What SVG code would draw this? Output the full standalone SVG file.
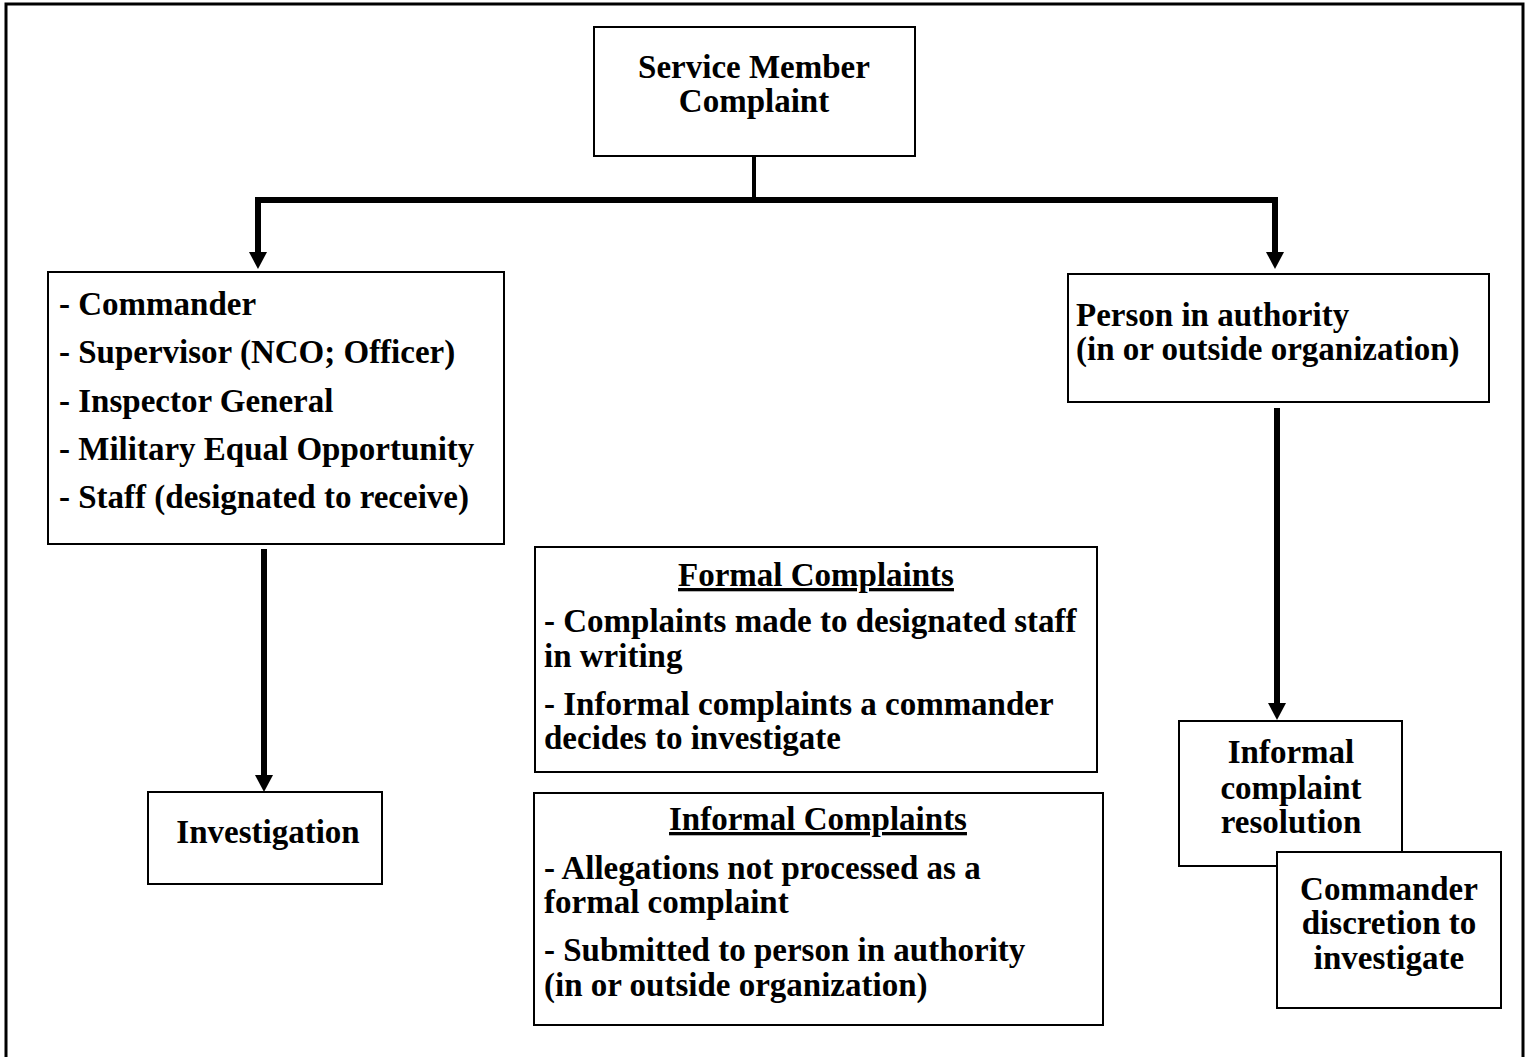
<svg xmlns="http://www.w3.org/2000/svg" width="1531" height="1057" viewBox="0 0 1531 1057">
<defs>
<style>
.box{fill:#fff;stroke:#000;stroke-width:2}
.t{font-family:"Liberation Serif","Times New Roman",serif;font-weight:bold;font-size:33px;fill:#000}
.c{text-anchor:middle}
.conn{stroke:#000;stroke-width:6;fill:none}
</style>
<marker id="ah" markerWidth="6" markerHeight="6" refX="6" refY="3" orient="auto" markerUnits="userSpaceOnUse" viewBox="0 0 6 6">
<path d="M0,0 L6,3 L0,6 Z" fill="#000"/>
</marker>
</defs>
<rect width="1531" height="1057" fill="#fff"/>
<path d="M6,1057 V4 H1523 V1057" fill="none" stroke="#000" stroke-width="3"/>
<g id="connectors">
<line x1="754" y1="156" x2="754" y2="200" stroke="#000" stroke-width="4"/>
<path class="conn" d="M258,253 V200 H1275 V253"/>
<polygon points="249,252 267,252 258,269" fill="#000"/>
<polygon points="1266,252 1284,252 1275,269" fill="#000"/>
<line class="conn" x1="264" y1="549" x2="264" y2="777"/>
<polygon points="255,775 273,775 264,792" fill="#000"/>
<line class="conn" x1="1277" y1="408" x2="1277" y2="705"/>
<polygon points="1268,703 1286,703 1277,720" fill="#000"/>
</g>
<g id="service-member-complaint">
<rect class="box" x="594" y="27" width="321" height="129"/>
<text class="t c" x="754" y="78">Service Member</text>
<text class="t c" x="754" y="112">Complaint</text>
</g>
<g id="receivers">
<rect class="box" x="48" y="272" width="456" height="272"/>
<text class="t" x="59" y="315">- Commander</text>
<text class="t" x="59" y="363">- Supervisor (NCO; Officer)</text>
<text class="t" x="59" y="412">- Inspector General</text>
<text class="t" x="59" y="460">- Military Equal Opportunity</text>
<text class="t" x="59" y="508">- Staff (designated to receive)</text>
</g>
<g id="person-in-authority">
<rect class="box" x="1068" y="274" width="421" height="128"/>
<text class="t" x="1076" y="326">Person in authority</text>
<text class="t" x="1076" y="360">(in or outside organization)</text>
</g>
<g id="investigation">
<rect class="box" x="148" y="792" width="234" height="92"/>
<text class="t c" x="268" y="843">Investigation</text>
</g>
<g id="formal-complaints">
<rect class="box" x="535" y="547" width="562" height="225"/>
<text class="t c" x="816" y="586" text-decoration="underline">Formal Complaints</text>
<text class="t" x="544" y="632">- Complaints made to designated staff</text>
<text class="t" x="544" y="667">in writing</text>
<text class="t" x="544" y="715">- Informal complaints a commander</text>
<text class="t" x="544" y="749">decides to investigate</text>
</g>
<g id="informal-complaints">
<rect class="box" x="534" y="793" width="569" height="232"/>
<text class="t c" x="818" y="830" text-decoration="underline">Informal Complaints</text>
<text class="t" x="544" y="879">- Allegations not processed as a</text>
<text class="t" x="544" y="913">formal complaint</text>
<text class="t" x="544" y="961">- Submitted to person in authority</text>
<text class="t" x="544" y="996">(in or outside organization)</text>
</g>
<g id="informal-resolution">
<rect class="box" x="1179" y="721" width="223" height="145"/>
<text class="t c" x="1291" y="763">Informal</text>
<text class="t c" x="1291" y="799">complaint</text>
<text class="t c" x="1291" y="833">resolution</text>
</g>
<g id="commander-discretion">
<rect class="box" x="1277" y="852" width="224" height="156"/>
<text class="t c" x="1389" y="900">Commander</text>
<text class="t c" x="1389" y="934">discretion to</text>
<text class="t c" x="1389" y="969">investigate</text>
</g>
</svg>
